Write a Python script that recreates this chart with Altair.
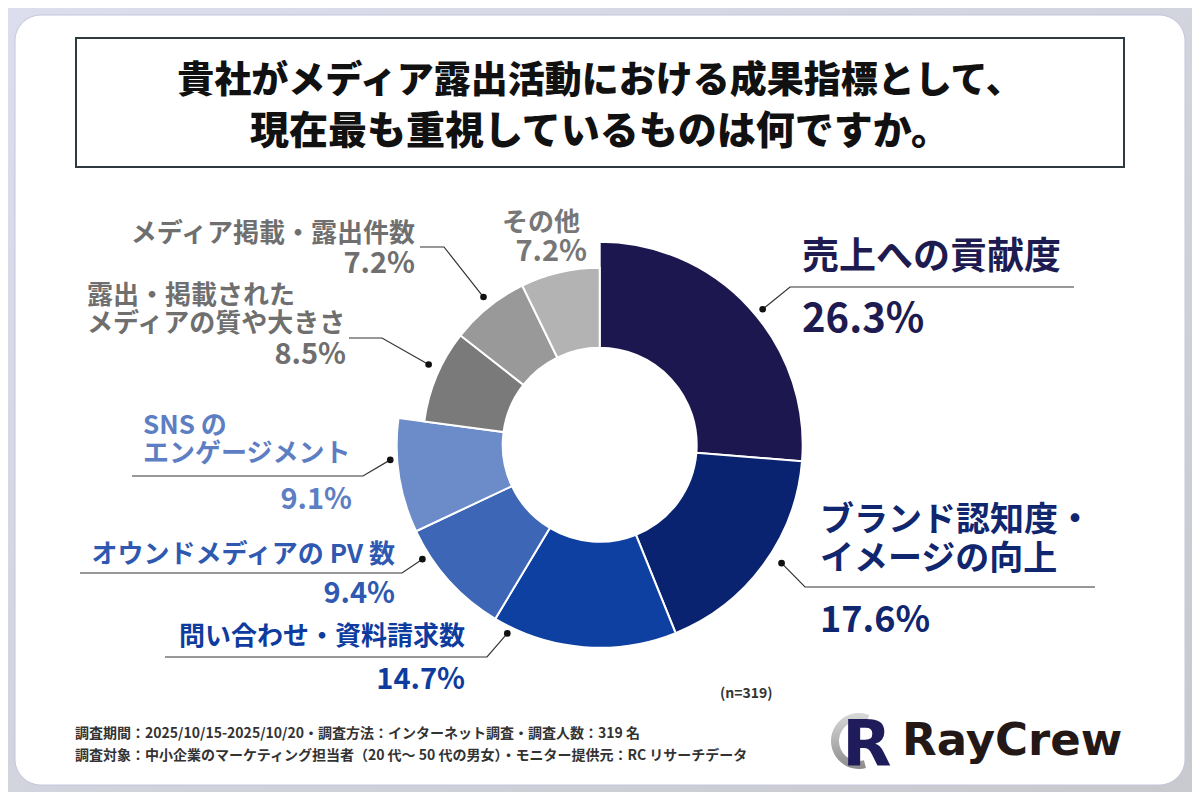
import altair as alt
import pandas as pd
import numpy as np

# ---------------- data ----------------
categories = [
    "売上への貢献度",
    "ブランド認知度・イメージの向上",
    "問い合わせ・資料請求数",
    "オウンドメディアのPV数",
    "SNSのエンゲージメント",
    "露出・掲載されたメディアの質や大きさ",
    "メディア掲載・露出件数",
    "その他",
]
values = [26.3, 17.6, 14.7, 9.4, 9.1, 8.5, 7.2, 7.2]
label_lines = [
    ["売上への貢献度"],
    ["ブランド認知度・", "イメージの向上"],
    ["問い合わせ・資料請求数"],
    ["オウンドメディアの PV 数"],
    ["SNS の", "エンゲージメント"],
    ["露出・掲載された", "メディアの質や大きさ"],
    ["メディア掲載・露出件数"],
    ["その他"],
]
title_lines = ["貴社がメディア露出活動における成果指標として、", "現在最も重視しているものは何ですか。"]
sample_note = "(n=319)"
footnotes = [
    "調査期間：2025/10/15-2025/10/20・調査方法：インターネット調査・調査人数：319 名",
    "調査対象：中小企業のマーケティング担当者（20 代～ 50 代の男女）・モニター提供元：RC リサーチデータ",
]
brand = "RayCrew"

# ---------------- styles / layout ----------------
slice_colors = ["#1c174f", "#0a2370", "#0d40a1", "#3e66b7", "#6b8bc9", "#7a7a7a", "#999999", "#b3b3b3"]
text_colors = ["#1e1b50", "#10266f", "#0e3c9e", "#2f59b1", "#5d7ec3", "#6f6f6f", "#6f6f6f", "#777777"]
outer_r = [203, 203, 203, 203, 203, 177, 177, 177]
INNER_R = 97
OFF = 8  # page margin
W, H = 1184, 784
CX, CY = 599.7, 444.8
JP = "Noto Sans CJK JP"

# per-category label layout (page coords)
layout = [
    dict(lines=[(802, 255)], nsize=37, nalign="left", pct=(802, 317), psize=40, palign="left",
         ul=(1074, 790, 287), nudge=2.9, dr=212),
    dict(lines=[(820, 518), (820, 557)], nsize=34, nalign="left", pct=(820, 618), psize=36, palign="left",
         ul=(1095, 805, 587), nudge=-3.3, dr=217),
    dict(lines=[(465, 635)], nsize=26, nalign="right", pct=(465, 678), psize=29, palign="right",
         ul=(165, 487, 657), nudge=21.6, dr=210),
    dict(lines=[(395, 553)], nsize=26, nalign="right", pct=(395, 592), psize=29, palign="right",
         ul=(80, 402, 573), nudge=9.3, dr=211),
    dict(lines=[(143, 424), (143, 452)], nsize=26, nalign="left", pct=(352, 498), psize=29, palign="right",
         ul=(132, 363, 476), nudge=4.7, dr=210),
    dict(lines=[(87, 294), (87, 322)], nsize=26, nalign="left", pct=(346, 353), psize=29, palign="right",
         ul=(349, 382, 338), nudge=2.3, dr=189),
    dict(lines=[(415, 232)], nsize=26, nalign="right", pct=(415, 262), psize=29, palign="right",
         ul=(420, 444, 247), nudge=0.7, dr=188),
    dict(lines=[(580, 221)], nsize=26, nalign="right", pct=(587, 250), psize=29, palign="right",
         ul=None, nudge=0, dr=0),
]

# ---------------- build tables ----------------
donut_df = pd.DataFrame({
    "cat": categories, "value": values, "idx": list(range(len(values))),
    "fill": slice_colors, "outer": outer_r,
})

total = sum(values)
cum = np.cumsum([0] + values[:-1])
mid_deg = [(c + v / 2) / total * 360 for c, v in zip(cum, values)]

texts = []  # rows: x, y, text, size, color, align, weight, font


def add_text(x, y, text, size, color, align, weight="bold", font=JP):
    texts.append(dict(x=x - OFF, y=y - OFF + 0.08 * size, text=text, size=size, color=color,
                      align=align, weight=str(weight), font=font))


lines_rows, dots_rows = [], []
for i, (cat, v) in enumerate(zip(categories, values)):
    L = layout[i]
    for (lx, ly), t in zip(L["lines"], label_lines[i]):
        add_text(lx, ly, t, L["nsize"], text_colors[i], L["nalign"])
    add_text(L["pct"][0], L["pct"][1], f"{v:.1f}%", L["psize"], text_colors[i], L["palign"])
    if L["ul"] is not None:
        a = np.deg2rad(mid_deg[i] + L["nudge"])
        dx, dy = CX + L["dr"] * np.sin(a), CY - L["dr"] * np.cos(a)
        dots_rows.append(dict(x=dx - OFF, y=dy - OFF))
        x0, x1, uy = L["ul"]
        for k, (px, py) in enumerate([(x0, uy), (x1, uy), (dx, dy)]):
            lines_rows.append(dict(grp=i, ord=k, x=px - OFF, y=py - OFF))

add_text(600, 79, title_lines[0], 37, "#111111", "center", weight="900")
add_text(600, 129, title_lines[1], 39, "#111111", "center", weight="900")
add_text(720, 693, sample_note, 14, "#333333", "left", weight="bold")
add_text(75, 733, footnotes[0], 14, "#333333", "left", weight="bold")
add_text(75, 755, footnotes[1], 14, "#333333", "left", weight="bold")

texts_df = pd.DataFrame(texts)
lines_df = pd.DataFrame(lines_rows)
dots_df = pd.DataFrame(dots_rows)
one = pd.DataFrame({"a": [0]})

X = lambda f: alt.X(f, scale=None, axis=None)
Y = lambda f: alt.Y(f, scale=None, axis=None)

# ---------------- layers ----------------
bg = alt.Chart(one).mark_rect(
    fill=alt.Gradient(gradient="linear", x1=0, y1=0, x2=1, y2=1,
                      stops=[alt.GradientStop(color="#dcdeee", offset=0),
                             alt.GradientStop(color="#c8c9ce", offset=1)])
).encode(x=alt.value(0), x2=alt.value(W), y=alt.value(0), y2=alt.value(H))

card = alt.Chart(one).mark_rect(fill="white", cornerRadius=26, stroke="#c3c6dc", strokeWidth=1).encode(
    x=alt.value(15 - OFF), x2=alt.value(1185 - OFF), y=alt.value(15 - OFF), y2=alt.value(785 - OFF))

title_box = alt.Chart(one).mark_rect(fill="white", stroke="#2e3a40", strokeWidth=2).encode(
    x=alt.value(76 - OFF), x2=alt.value(1124 - OFF), y=alt.value(38 - OFF), y2=alt.value(167 - OFF))

theta_scale = alt.Scale(domain=[0, total], range=[0, 2 * np.pi])
donut = alt.Chart(donut_df).transform_window(
    v1="sum(value)", sort=[alt.SortField("idx", order="ascending")],
    frame=[None, 0],
).transform_calculate(
    v0="datum.v1 - datum.value"
).mark_arc(innerRadius=INNER_R, stroke="white", strokeWidth=2).encode(
    theta=alt.Theta("v0:Q", scale=theta_scale, stack=None),
    theta2="v1:Q",
    radius=alt.Radius("outer:Q", scale=None),
    color=alt.Color("fill:N", scale=None, legend=None),
    x=alt.value(CX - OFF), y=alt.value(CY - OFF),
)

leaders = alt.Chart(lines_df).mark_line(color="#333333", strokeWidth=1.2).encode(
    x=X("x:Q"), y=Y("y:Q"), detail="grp:N", order="ord:Q")

dots = alt.Chart(dots_df).mark_circle(size=44, color="#111111", opacity=1).encode(x=X("x:Q"), y=Y("y:Q"))

text_layers = []
for (align, weight, font), g in texts_df.groupby(["align", "weight", "font"]):
    fw = int(weight) if weight.isdigit() else weight
    text_layers.append(
        alt.Chart(g).mark_text(align=align, baseline="middle", font=font, fontWeight=fw).encode(
            x=X("x:Q"), y=Y("y:Q"), text=alt.Text("text:N"),
            size=alt.Size("size:Q", scale=None, legend=None),
            color=alt.Color("color:N", scale=None, legend=None),
        )
    )

# logo
ring = alt.Chart(one).mark_arc(
    theta=np.pi * 0.92, theta2=np.pi * 2.12, outerRadius=28, innerRadius=20,
    fill=alt.Gradient(gradient="linear", x1=0, y1=0, x2=0, y2=1,
                      stops=[alt.GradientStop(color="#d9d9d9", offset=0),
                             alt.GradientStop(color="#8c8c8c", offset=1)])
).encode(x=alt.value(859 - OFF), y=alt.value(741 - OFF))

logo_r = alt.Chart(one).mark_text(text="R", font="DejaVu Sans", fontWeight="bold", fontSize=64,
                                  color="#1f1c5c", align="center", baseline="alphabetic").encode(
    x=alt.value(867 - OFF), y=alt.value(766 - OFF))

logo_txt = alt.Chart(one).mark_text(text=brand, font="DejaVu Sans", fontWeight="bold", fontSize=45,
                                    color="#231816", align="left", baseline="alphabetic").encode(
    x=alt.value(902 - OFF), y=alt.value(755 - OFF))

chart = alt.layer(
    bg, card, title_box, donut, leaders, dots, *text_layers, ring, logo_r, logo_txt
).properties(
    width=W, height=H, padding=0, autosize=alt.AutoSizeParams(type="none")
).configure_view(stroke=None)

chart.save("out.html", embed_options={"renderer": "svg", "actions": False})
